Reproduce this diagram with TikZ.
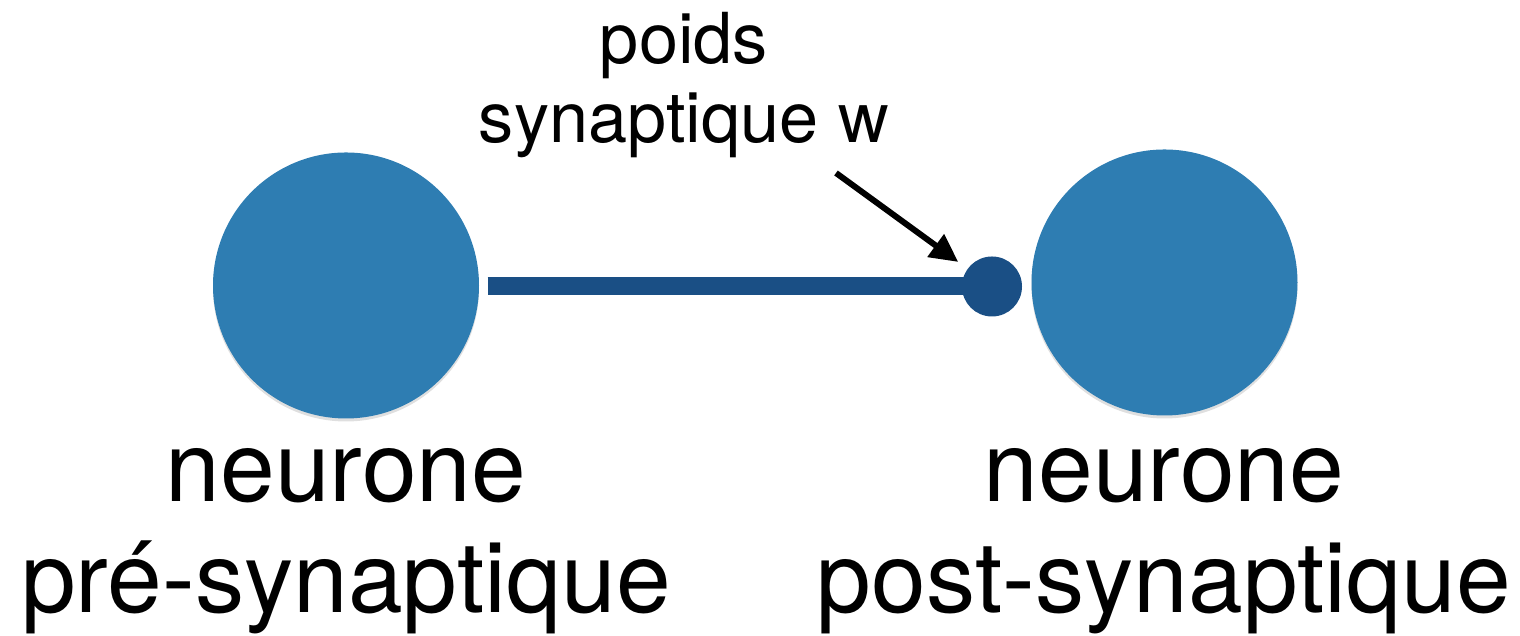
\documentclass[tikz,border=0pt]{standalone}
\definecolor{NBlue}{HTML}{2E7DB2}
\definecolor{NDeep}{HTML}{1A4F85}
\usepackage{fontspec}
\setmainfont{TeX Gyre Heros}
\usepackage{tikz}
\usetikzlibrary{arrows.meta,positioning,shadows}

\tikzset{
  neuron/.style={circle,fill=NBlue,minimum size=2.66cm,inner sep=0pt,
                 drop shadow={shadow xshift=0pt,shadow yshift=-0.03cm,opacity=0.25}},
  synapse/.style={circle,fill=NDeep,minimum size=0.60cm,inner sep=0pt},
  bigtext/.style={font=\fontsize{28}{31.8}\selectfont,align=center,anchor=base,inner sep=0pt},
  smalltext/.style={font=\fontsize{20}{22.7}\selectfont,align=center,anchor=base,inner sep=0pt},
}

\begin{document}
\begin{tikzpicture}
    \useasboundingbox (0,0) rectangle (15.2,6.36);
    % the two neurons
    \node[neuron] (pre) at (3.46,3.505) {};
    \node[neuron] (post) at (11.645,3.535) {};
    % axon ending on the synapse
    \node[synapse] (syn) at (9.92,3.495) {};
    \draw[NDeep,line width=0.18cm] ([xshift=0.08cm]pre.east |- syn) -- (syn.center);
    % weight label and pointer (base = last line)
    \node[smalltext] (weight) at (6.84,4.93) {poids\\synaptique w};
    \coordinate (tail) at (8.36,4.63);
    \draw[-{Triangle[length=0.28cm,width=0.27cm]},line width=0.06cm,shorten >=0.11cm]
      (tail) -- (syn);
    % neuron names
    \node[bigtext] (prename) at (3.46,0.23) {neurone\\pré-synaptique};
    \node[bigtext] (postname) at (11.64,0.23) {neurone\\post-synaptique};
  \end{tikzpicture}
\end{document}
